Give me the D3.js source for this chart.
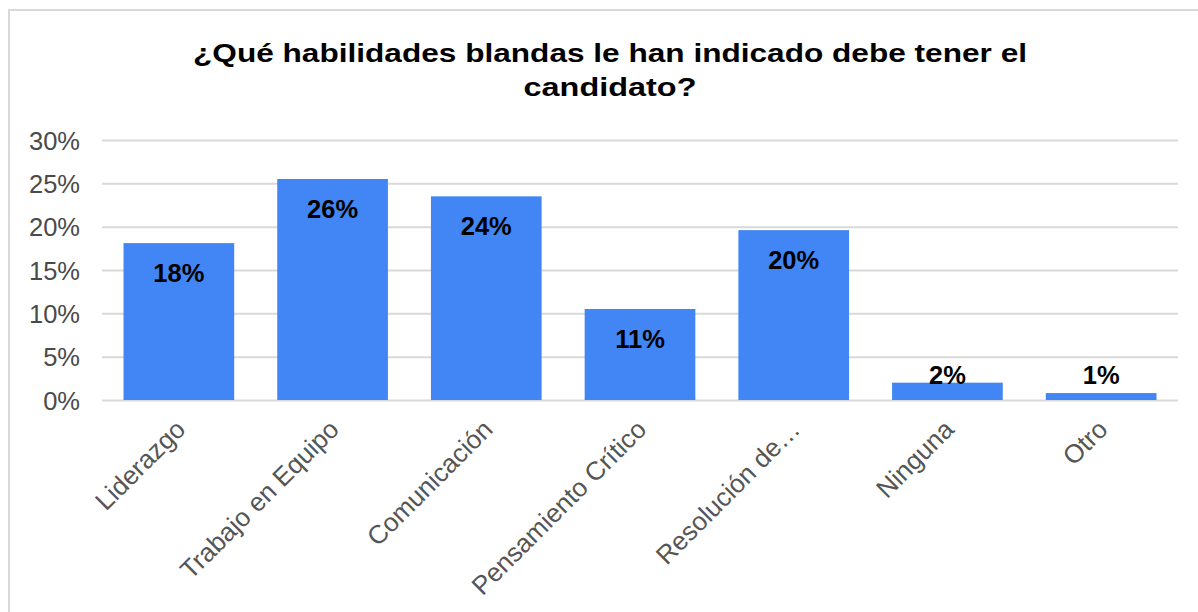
<!DOCTYPE html>
<html>
<head>
<meta charset="utf-8">
<script src="https://cdn.jsdelivr.net/npm/d3@7"></script>
<style>
  html, body { margin: 0; padding: 0; background: #ffffff; }
  svg { display: block; }
</style>
</head>
<body>
<svg id="chart" width="1198" height="612"></svg>
<script>
// Soft skills requested for the candidate (share of responses, %)
const categories = ["Liderazgo", "Trabajo en Equipo", "Comunicación", "Pensamiento Crítico", "Resolución de…", "Ninguna", "Otro"];
const values = [18.1, 25.5, 23.5, 10.5, 19.6, 2.0, 0.8];
const yTicks = [0, 5, 10, 15, 20, 25, 30];
const titleLines = ["¿Qué habilidades blandas le han indicado debe tener el", "candidato?"];

const W = 1198, H = 612;
const font = "'Liberation Sans', Arial, Helvetica, sans-serif";
const svg = d3.select("#chart");

// frame
svg.append("path")
  .attr("d", `M9,${H} L9,10 L${W},10`)
  .attr("fill", "none")
  .attr("stroke", "#d9d9d9")
  .attr("stroke-width", 2);

// title (wide bold face, stretched to its line width)
const titleWidths = [834, 173];
svg.append("g").selectAll("text")
  .data(titleLines)
  .join("text")
  .attr("x", 610)
  .attr("y", (d, i) => 62 + i * 33.5)
  .attr("text-anchor", "middle")
  .attr("font-family", font)
  .attr("font-weight", "bold")
  .attr("font-size", 26)
  .attr("fill", "#000")
  .attr("textLength", (d, i) => titleWidths[i])
  .attr("lengthAdjust", "spacingAndGlyphs")
  .text(d => d);

const x = d3.scaleBand()
  .domain(categories)
  .range([102, 1178])
  .paddingInner(0.28)
  .paddingOuter(0.14);

const y = d3.scaleLinear()
  .domain([0, 30])
  .range([400, 140]);

// gridlines
svg.append("g").selectAll("line")
  .data(yTicks)
  .join("line")
  .attr("x1", 102)
  .attr("x2", 1178)
  .attr("y1", d => y(d) + 0.5)
  .attr("y2", d => y(d) + 0.5)
  .attr("stroke", "#d9d9d9")
  .attr("stroke-width", 2);

// y axis
const yAxis = svg.append("g")
  .attr("transform", "translate(80,0)")
  .call(d3.axisLeft(y).tickValues(yTicks).tickFormat(d => d + "%").tickSize(0).tickPadding(0));
yAxis.select(".domain").remove();
yAxis.selectAll("text")
  .attr("font-family", font)
  .attr("font-size", 25.5)
  .attr("fill", "#4a4a4a")
  .attr("dy", "0.36em");

// bars
svg.append("g").selectAll("rect")
  .data(values)
  .join("rect")
  .attr("x", (d, i) => x(categories[i]))
  .attr("width", x.bandwidth())
  .attr("y", d => y(d))
  .attr("height", d => y(0) - y(d))
  .attr("fill", "#4285f4");

// value labels
svg.append("g").selectAll("text")
  .data(values)
  .join("text")
  .attr("x", (d, i) => x(categories[i]) + x.bandwidth() / 2)
  .attr("y", d => Math.min(y(d) + 38.5, y(0) - 16))
  .attr("text-anchor", "middle")
  .attr("font-family", font)
  .attr("font-weight", "bold")
  .attr("font-size", 25.5)
  .attr("fill", "#000")
  .text(d => Math.round(d) + "%");

// x axis labels
const xAxis = svg.append("g")
  .attr("transform", `translate(0,${y(0)})`)
  .call(d3.axisBottom(x).tickSize(0).tickPadding(0));
xAxis.select(".domain").remove();
xAxis.selectAll("text")
  .attr("font-family", font)
  .attr("font-size", 26)
  .attr("fill", "#555")
  .attr("text-anchor", "end")
  .attr("dy", 0)
  .attr("transform", "translate(8,31) rotate(-45)");
</script>
</body>
</html>
